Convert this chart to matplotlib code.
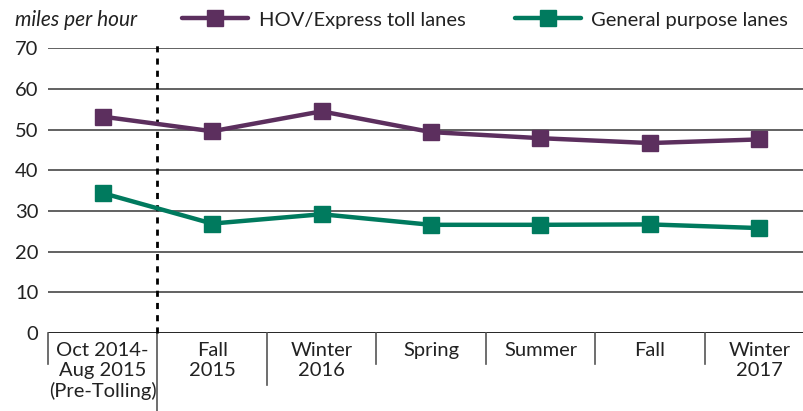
import matplotlib
matplotlib.use("Agg")
import matplotlib.pyplot as plt

categories = ["Oct 2014-\nAug 2015\n(Pre-Tolling)", "Fall\n2015", "Winter\n2016",
              "Spring", "Summer", "Fall", "Winter\n2017"]
hov = [53.2, 49.6, 54.5, 49.4, 47.9, 46.7, 47.6]
gp = [34.4, 26.9, 29.2, 26.6, 26.6, 26.7, 25.8]
yticks = [0, 10, 20, 30, 40, 50, 60, 70]

purple = "#5C2F5E"
green = "#007A5E"
FS = 14.5

plt.rcParams['font.family'] = ['Lato', 'DejaVu Sans']

fig = plt.figure(figsize=(8.04, 4.11), dpi=100)
ax = fig.add_axes([48/804, 78/411, (814-48)/804, (333-48.3)/411])

x = list(range(len(categories)))
ax.plot(x, hov, color=purple, lw=3.2, marker='s', ms=11.5, zorder=5,
        label="HOV/Express toll lanes", solid_capstyle='round')
ax.plot(x, gp, color=green, lw=3.2, marker='s', ms=11.5, zorder=5,
        label="General purpose lanes", solid_capstyle='round')

ax.set_xlim(-0.5, len(categories) - 0.5)
ax.set_ylim(0, 70)
ax.set_yticks(yticks)
ax.set_yticklabels([str(t) for t in yticks], fontsize=FS, color='#222222')
ax.tick_params(axis='y', length=0, pad=7)
for t in yticks[1:]:
    ax.axhline(t, color='#555555', lw=1.3, zorder=1)
ax.axhline(0, color='#111111', lw=2, zorder=2)

for s in ax.spines.values():
    s.set_visible(False)

ax.set_xticks(x)
ax.set_xticklabels(categories, fontsize=FS, color='#222222', linespacing=1.2,
                   va='top')
ax.tick_params(axis='x', length=0, pad=6.5)

# category separators
trans = ax.get_xaxis_transform()
ah = 333 - 48.3
sep = {-0.5: 31, 0.5: 78, 1.5: 52, 2.5: 31, 3.5: 31, 4.5: 31, 5.5: 31}
for xs, L in sep.items():
    ax.plot([xs, xs], [0, -L/ah], color='#555555', lw=1.2, transform=trans,
            clip_on=False)

# dashed divider
ax.plot([0.5, 0.5], [0, 1.01], color='black', lw=2, ls=(0, (2.2, 2.2)),
        transform=trans, clip_on=False, zorder=3)

fig.text(15/804, 1 - 20/411, "miles per hour", fontsize=15, style='italic',
         va='center', ha='left', color='#222222')

leg = fig.legend(loc='center left', bbox_to_anchor=(182/804, 1 - 20/411),
                 ncol=2, frameon=False, fontsize=FS, handlelength=3.3,
                 columnspacing=2.45, handletextpad=0.5, borderpad=0,
                 borderaxespad=0)
for t in leg.get_texts():
    t.set_color('#222222')

fig.savefig("out.png", dpi=100)
